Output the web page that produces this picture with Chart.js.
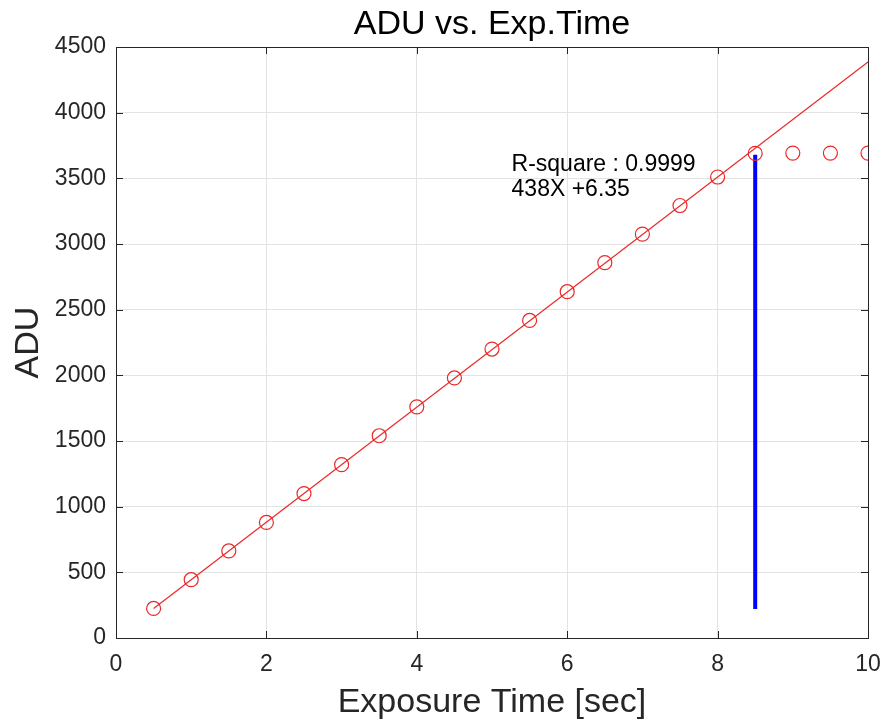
<!DOCTYPE html>
<html>
<head>
<meta charset="utf-8">
<script src="https://cdn.jsdelivr.net/npm/chart.js@4/dist/chart.umd.min.js"></script>
<style>
  html, body { margin: 0; padding: 0; background: #fff; }
  #wrap { width: 886px; height: 727px; }
</style>
</head>
<body>
<div id="wrap"><canvas id="chart" width="886" height="727"></canvas></div>
<script>
// measured points (exposure time vs ADU)
const expTime = [0.5, 1, 1.5, 2, 2.5, 3, 3.5, 4, 4.5, 5, 5.5, 6, 6.5, 7, 7.5, 8, 8.5, 9, 9.5, 10];
const aduValues = [225, 444, 663, 880, 1100, 1320, 1540, 1760, 1980, 2200, 2418, 2637, 2858, 3075, 3293, 3510, 3690, 3692, 3692, 3692];

// linear fit line end points
const fitX = [0.5, 10];
const fitY = [225, 4386];

// saturation marker (blue bar)
const markX = [8.5, 8.5];
const markY = [220, 3680];

const chartTitle = 'ADU vs. Exp.Time';
const fitText = ['R-square : 0.9999', '438X +6.35'];
const fitTextAt = { x: 5.26, y: [3602, 3412] };

const xTicks = [0, 2, 4, 6, 8, 10];
const yTicks = [0, 500, 1000, 1500, 2000, 2500, 3000, 3500, 4000, 4500];

const axisColor = '#262626';
const font = 'Liberation Sans, Arial, Helvetica, sans-serif';

// box around the plot + inward tick marks (matlab style), title over the axes
const boxPlugin = {
  id: 'box',
  afterDatasetsDraw(chart) {
    const { ctx, chartArea: a, scales } = chart;
    ctx.save();
    ctx.strokeStyle = axisColor;
    ctx.lineWidth = 1;
    ctx.beginPath();
    xTicks.forEach(v => {
      const px = Math.round(scales.x.getPixelForValue(v)) + 0.5;
      ctx.moveTo(px, a.bottom); ctx.lineTo(px, a.bottom - 7);
      ctx.moveTo(px, a.top); ctx.lineTo(px, a.top + 7);
    });
    yTicks.forEach(v => {
      const py = Math.round(scales.y.getPixelForValue(v)) + 0.5;
      ctx.moveTo(a.left, py); ctx.lineTo(a.left + 7, py);
      ctx.moveTo(a.right, py); ctx.lineTo(a.right - 7, py);
    });
    ctx.stroke();
    ctx.strokeRect(Math.round(a.left) + 0.5, Math.round(a.top) + 0.5,
      Math.round(a.right - a.left), Math.round(a.bottom - a.top));

    // title centred over the plot box
    ctx.fillStyle = '#000';
    ctx.textAlign = 'center';
    ctx.textBaseline = 'middle';
    ctx.font = '34px ' + font;
    ctx.fillText(chartTitle, (a.left + a.right) / 2, 25);

    // fit annotation
    ctx.font = '23px ' + font;
    ctx.textAlign = 'left';
    const tx = scales.x.getPixelForValue(fitTextAt.x);
    fitText.forEach((t, i) => {
      ctx.fillText(t, tx, scales.y.getPixelForValue(fitTextAt.y[i]));
    });
    ctx.restore();
  }
};

const toPts = (xs, ys) => xs.map((x, i) => ({ x: x, y: ys[i] }));

new Chart(document.getElementById('chart'), {
  type: 'scatter',
  data: {
    datasets: [
      {
        label: 'fit',
        data: toPts(fitX, fitY),
        showLine: true,
        borderColor: 'rgb(235,40,40)',
        borderWidth: 1.2,
        pointRadius: 0,
        clip: 0
      },
      {
        label: 'ADU',
        data: toPts(expTime, aduValues),
        showLine: false,
        borderColor: 'rgb(235,40,40)',
        backgroundColor: 'rgba(0,0,0,0)',
        borderWidth: 1.2,
        pointRadius: 7,
        pointStyle: 'circle',
        clip: 0
      },
      {
        label: 'sat',
        data: toPts(markX, markY),
        showLine: true,
        borderColor: '#0000ff',
        borderWidth: 4,
        pointRadius: 0,
        clip: 0
      }
    ]
  },
  options: {
    responsive: false,
    animation: false,
    layout: { padding: { left: 0, right: 0, top: 47, bottom: 0 } },
    plugins: {
      legend: { display: false },
      tooltip: { enabled: false },
      title: { display: false }
    },
    scales: {
      x: {
        type: 'linear',
        min: 0, max: 10,
        afterFit(s) { s.height = 89; s.paddingRight = 18; s.paddingLeft = 0; },
        afterBuildTicks(s) { s.ticks = xTicks.map(v => ({ value: v })); },
        grid: { color: '#e3e3e3', drawTicks: false },
        border: { display: false },
        ticks: {
          color: axisColor, padding: 13, font: { family: font, size: 23 },
          callback: v => String(v)
        },
        title: {
          display: true,
          text: 'Exposure Time [sec]',
          color: axisColor,
          font: { family: font, size: 34 },
          padding: { top: 0, bottom: 4 }
        }
      },
      y: {
        type: 'linear',
        min: 0, max: 4500,
        afterFit(s) { s.width = 116; s.paddingTop = 0; },
        afterBuildTicks(s) { s.ticks = yTicks.map(v => ({ value: v })); },
        grid: { color: '#e3e3e3', drawTicks: false },
        border: { display: false },
        ticks: {
          color: axisColor, padding: 10, font: { family: font, size: 23 },
          callback: v => String(v)
        },
        title: {
          display: true,
          text: 'ADU',
          color: axisColor,
          font: { family: font, size: 34 },
          padding: { top: 8, bottom: 0 }
        }
      }
    }
  },
  plugins: [boxPlugin]
});
</script>
</body>
</html>
